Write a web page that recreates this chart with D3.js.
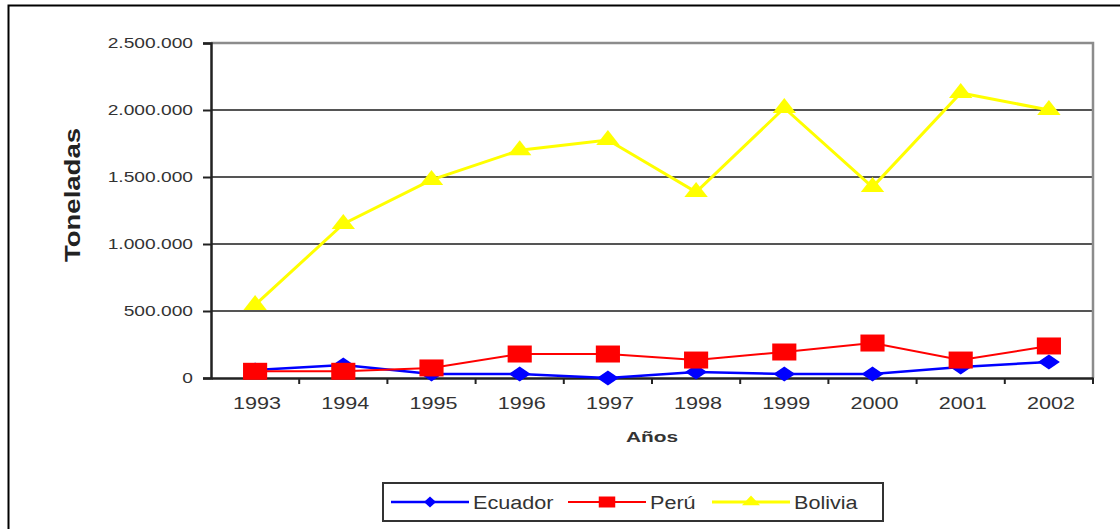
<!DOCTYPE html>
<html>
<head>
<meta charset="utf-8">
<script src="https://cdn.jsdelivr.net/npm/d3@7"></script>
<style>
    body { margin: 0; background: #fff; }
    text { font-family: "Liberation Sans", Arial, sans-serif; }
</style>
</head>
<body>
<div id="chart"></div>
<script>
const years = ["1993", "1994", "1995", "1996", "1997", "1998", "1999", "2000", "2001", "2002"];
const ecuador = [60000, 97000, 30000, 30000, 0, 45000, 30000, 30000, 82000, 120000];
const peru = [50000, 50000, 75000, 179000, 179000, 134000, 194000, 261000, 134000, 239000];
const bolivia = [545000, 1150000, 1478000, 1700000, 1776000, 1388000, 2015000, 1425000, 2127000, 2000000];
const yTicks = [0, 500000, 1000000, 1500000, 2000000, 2500000];

// marker shapes; the source picture is stretched sideways, so markers get an x scale
const series = [
    { name: "Ecuador", values: ecuador, colour: "#0000ff", symbol: d3.symbolSquare, size: 112, rot: 45, sx: 1.47, width: 2.5, legendSize: 60, legendSx: 1.1 },
    { name: "Perú", values: peru, colour: "#ff0000", symbol: d3.symbolSquare, size: 289, rot: 0, sx: 1.42, width: 2, legendSize: 121, legendSx: 1.5 },
    { name: "Bolivia", values: bolivia, colour: "#ffff00", symbol: d3.symbolTriangle, size: 130, rot: 0, sx: 1.35, width: 3, legendSize: 55, legendSx: 1.6 }
];

// widen glyphs the same way the source picture is widened
const stretch = (sel, factor) => sel.each(function() {
    const len = this.getComputedTextLength();
    d3.select(this)
        .attr("textLength", len * factor)
        .attr("lengthAdjust", "spacingAndGlyphs");
});

const W = 1120, H = 529;
const margin = { top: 43, right: 27, bottom: 151, left: 211 },
    width = W - margin.left - margin.right,
    height = H - margin.top - margin.bottom;

const svgContainer = d3.select("#chart").append("svg")
    .attr("width", W)
    .attr("height", H);

// outer frame (runs off the picture on the right and bottom)
svgContainer.append("rect")
    .attr("x", 8.5).attr("y", 5.5)
    .attr("width", W).attr("height", H)
    .attr("fill", "none")
    .attr("stroke", "#000")
    .attr("stroke-width", 2);

const svg = svgContainer.append("g")
    .attr("transform", `translate(${margin.left},${margin.top})`);

const x = d3.scaleBand()
    .domain(years)
    .range([0, width]);

const y = d3.scaleLinear()
    .domain([0, 2500000])
    .range([height, 0]);

const fmt = d => d3.format(",")(d).replace(/,/g, ".");

// gridlines
svg.selectAll(".grid")
    .data(yTicks.filter(d => d > 0))
    .enter().append("line")
    .attr("x1", 0).attr("x2", width)
    .attr("y1", d => y(d)).attr("y2", d => y(d))
    .attr("stroke", "#555")
    .attr("stroke-width", 2);

// plot area border (top/right)
svg.append("path")
    .attr("d", `M0,${y(2500000)}H${width}V${height}`)
    .attr("fill", "none")
    .attr("stroke", "#8c8c8c")
    .attr("stroke-width", 2.5);

const yAxisGroup = svg.append("g")
    .call(d3.axisLeft(y).tickValues(yTicks).tickFormat(fmt).tickSize(8).tickPadding(10));
yAxisGroup.select(".domain").attr("stroke", "#222").attr("stroke-width", 2.5);
yAxisGroup.selectAll(".tick line").attr("stroke", "#222").attr("stroke-width", 2);
yAxisGroup.selectAll("text")
    .style("font-size", "14px")
    .style("fill", "#333")
    .call(stretch, 1.37);

const xAxisGroup = svg.append("g")
    .attr("transform", `translate(0,${height})`)
    .call(d3.axisBottom(x).tickSize(0).tickPadding(19));
xAxisGroup.select(".domain").attr("stroke", "#222").attr("stroke-width", 2.5);
xAxisGroup.selectAll("text")
    .style("font-size", "17px")
    .attr("dx", "2px")
    .style("fill", "#333")
    .call(stretch, 1.27);

// x ticks sit on the band boundaries
xAxisGroup.selectAll(".bound")
    .data(years)
    .enter().append("line")
    .attr("x1", (d, i) => x(d) + x.step())
    .attr("x2", (d, i) => x(d) + x.step())
    .attr("y1", 0).attr("y2", 6)
    .attr("stroke", "#222")
    .attr("stroke-width", 2);

svg.append("text")
    .attr("x", x("1997") + x.bandwidth())
    .attr("y", height + 64)
    .style("text-anchor", "middle")
    .style("font-size", "15px")
    .style("font-weight", "bold")
    .style("fill", "#333")
    .text("Años")
    .call(stretch, 1.39);

svg.append("text")
    .attr("transform", "rotate(-90)")
    .attr("x", -152)
    .attr("y", -131)
    .style("text-anchor", "middle")
    .style("font-size", "22px")
    .style("font-weight", "bold")
    .style("fill", "#222")
    .text("Toneladas")
    .call(stretch, 1.25);

const line = d3.line()
    .x((d, i) => x(years[i]) + x.bandwidth() / 2)
    .y(d => y(d));

series.forEach(s => {
    svg.append("path")
        .datum(s.values)
        .attr("d", line)
        .attr("fill", "none")
        .attr("stroke", s.colour)
        .attr("stroke-width", s.width);

    svg.selectAll(`.pt-${s.name}`)
        .data(s.values)
        .enter().append("path")
        .attr("transform", (d, i) => `translate(${x(years[i]) + x.bandwidth() / 2},${y(d)}) scale(${s.sx},1) rotate(${s.rot})`)
        .attr("d", d3.symbol().type(s.symbol).size(s.size))
        .attr("fill", s.colour);
});

// legend
const legend = svgContainer.append("g").attr("transform", "translate(383,483)");
legend.append("rect")
    .attr("width", 500).attr("height", 38)
    .attr("fill", "#fff")
    .attr("stroke", "#333")
    .attr("stroke-width", 2);

const legendX = [8, 185, 329];
series.forEach((s, i) => {
    const g = legend.append("g").attr("transform", `translate(${legendX[i]},19)`);
    g.append("line")
        .attr("x1", 0).attr("x2", 78)
        .attr("stroke", s.colour)
        .attr("stroke-width", s.width);
    g.append("path")
        .attr("transform", `translate(39,0) scale(${s.legendSx},1) rotate(${s.rot})`)
        .attr("d", d3.symbol().type(s.symbol).size(s.legendSize))
        .attr("fill", s.colour);
    g.append("text")
        .attr("x", 82)
        .attr("y", 7)
        .style("font-size", "18px")
        .style("fill", "#333")
        .text(s.name)
        .call(stretch, 1.2);
});
</script>
</body>
</html>
